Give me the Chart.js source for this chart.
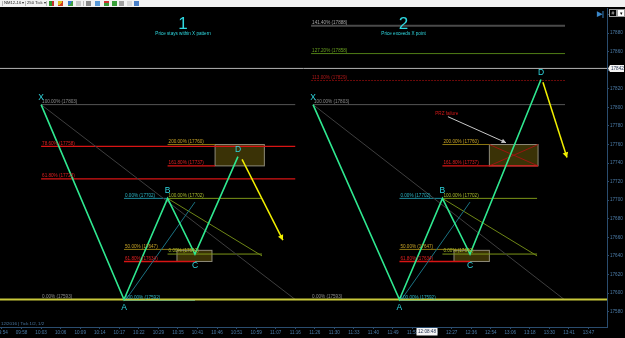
<!DOCTYPE html>
<html>
<head>
<meta charset="utf-8">
<script src="https://cdn.jsdelivr.net/npm/chart.js@4.4.1/dist/chart.umd.min.js"></script>
<style>
  body { margin: 0; background: #000; }
  #wrap { position: relative; width: 625px; height: 338px; overflow: hidden; }
  #bar { position: absolute; left: 0; top: 0; width: 625px; height: 7px; background: #f2f2f2;
         font: 4.2px 'Liberation Sans', Arial, sans-serif; color: #222; white-space: nowrap; }
  #bar span { position: absolute; top: 1.4px; line-height: 4.5px; }
  #bar i { position: absolute; top: 1px; width: 5px; height: 5px; }
  #bar b { position: absolute; top: 1px; width: 1px; height: 5px; background: #b8b8b8; }
  .corner { position: absolute; top: 9px; width: 6px; height: 6px; border: 1px solid #9a9a9a; background: #000;
            font: 5px 'Liberation Sans', Arial; color: #bbb; text-align: center; line-height: 6px; }
</style>
</head>
<body>
<div id="wrap">
  <canvas id="chart" width="625" height="338"></canvas>
  <div id="bar">
    <b style="left:2px"></b><span style="left:4px">NM12-16 ▾</span>
    <b style="left:25px"></b><span style="left:27px">250 Tick ▾</span>
    <b style="left:46px"></b>
    <i style="left:49px;background:linear-gradient(90deg,#2a9a2a 50%,#c83030 50%)"></i>
    <i style="left:58px;background:linear-gradient(135deg,#e0c020 50%,#d04020 50%)"></i>
    <i style="left:68px;background:linear-gradient(135deg,#3a7ad0 50%,#40a040 50%)"></i>
    <i style="left:76px;background:#c8c8c8"></i>
    <b style="left:83px"></b>
    <i style="left:86px;background:#8a8a8a"></i>
    <i style="left:95px;background:#5a9ad8"></i>
    <i style="left:104px;background:linear-gradient(180deg,#d03030 40%,#3a9a3a 40%)"></i>
    <i style="left:112px;background:#3aa03a"></i>
    <i style="left:119px;background:#a0a0a0"></i>
    <i style="left:127px;background:#d8d8d8"></i>
    <i style="left:134px;background:#4a80c8"></i>
  </div>
  <div style="position:absolute;left:597px;top:10px;color:#3a86c8;font:bold 7px 'Liberation Sans';">▶|</div>
  <div class="corner" style="left:609px">#</div>
  <div class="corner" style="left:617px;background:#fff;color:#000">▾</div>
</div>
<script>
// ---- axis data ----
const timeLabels = ["09:54", "09:58", "10:03", "10:06", "10:09", "10:14", "10:17", "10:22", "10:29",
  "10:35", "10:41", "10:46", "10:51", "10:59", "11:07", "11:16", "11:26", "11:30", "11:33", "11:40",
  "11:49", "11:58", "12:14", "12:27", "12:36", "12:54", "13:06", "13:18", "13:30", "13:41", "13:47"];
const priceTicks = [17580, 17600, 17620, 17640, 17660, 17680, 17700, 17720, 17740, 17760,
  17780, 17800, 17820, 17840, 17860, 17880, 17900];
const lastPrice = 17842;
const supportPrice = 17593;
const cursorTime = "12:08:48";
const cursorAt = 21.74;

// ---- swing points (x = bar slot on the time axis, y = price) ----
const pointNames = ["X", "A", "B", "C", "D"];
const p1Time = [2.0, 6.24, 8.47, 9.87, 12.07];
const p1Price = [17803, 17593, 17702, 17642, 17747];
const p2Time = [15.91, 20.33, 22.53, 23.94, 27.57];
const p2Price = [17803, 17593, 17702, 17642, 17830];

// ---- fibonacci levels ----
const p1LevelPct = ["100.00%", "78.60%", "61.80%", "200.00%", "161.80%", "0.00%", "100.00%", "50.00%", "61.80%", "0.00%", "100.00%", "0.00%"];
const p1LevelPrice = [17803, 17758, 17723, 17760, 17737, 17702, 17702, 17647, 17634, 17642, 17592, 17593];
const p1LevelFrom = [2.0, 2.0, 2.0, 8.47, 8.47, 6.24, 8.47, 6.24, 6.24, 8.47, 6.24, 2.0];
const p1LevelTo = [15.0, 15.0, 15.0, 10.9, 10.9, 8.47, 13.3, 9.87, 9.87, 13.3, 9.87, 15.0];
const p1LevelKind = ["x", "ret", "ret", "ext", "ret", "b", "bc", "ext", "ret", "bc", "b", "x"];

const p2LevelPct = ["141.40%", "127.20%", "113.00%", "100.00%", "200.00%", "161.80%", "0.00%", "100.00%", "50.00%", "61.80%", "0.00%", "100.00%", "0.00%"];
const p2LevelPrice = [17888, 17858, 17829, 17803, 17760, 17737, 17702, 17702, 17647, 17634, 17642, 17592, 17593];
const p2LevelFrom = [15.81, 15.81, 15.81, 15.91, 22.53, 22.53, 20.33, 22.53, 20.33, 20.33, 22.53, 20.33, 15.81];
const p2LevelTo = [28.8, 28.8, 28.8, 28.8, 24.93, 27.42, 22.53, 27.37, 23.94, 23.94, 27.37, 23.94, 28.76];
const p2LevelKind = ["x2", "g", "dr", "x", "ext", "ret", "b", "bc", "ext", "ret", "bc", "b", "x"];

// ---- helper diagonals ----
const diagFromX = [2.0, 8.47, 6.34, 15.91, 22.53, 20.43];
const diagFromY = [17803, 17702, 17593, 17803, 17702, 17593];
const diagToX = [15.0, 13.3, 9.87, 28.76, 27.37, 23.94];
const diagToY = [17593, 17640, 17698, 17593, 17640, 17698];
const diagKind = ["gray", "olive", "teal", "gray", "olive", "teal"];

// ---- PRZ boxes ----
const boxFrom = [8.95, 10.9, 23.12, 24.93];
const boxTo = [10.74, 13.42, 24.93, 27.42];
const boxHigh = [17646, 17760, 17646, 17760];
const boxLow = [17634, 17737, 17634, 17737];
const boxCrossed = [false, false, false, true];

// ---- arrows ----
const arrowFromX = [12.28, 27.67, 22.81];
const arrowFromY = [17744, 17827, 17790];
const arrowToX = [14.37, 28.9, 25.78];
const arrowToY = [17657, 17746, 17762];
const arrowKind = ["yellow", "yellow", "note"];

// ---- annotations ----
const titleText = ["1", "2"];
const titleNote = ["Price stays within X pattern", "Price exceeds X point"];
const titleAtX = [9.26, 20.54];
const titleAtY = [17889, 17879];
const noteText = "PRZ failure";
const noteAt = [22.75, 17793];

const levelLine = { x: "#555555", x2: "#4a4a4a", g: "#4f7d16", dr: "#6e0a0a", ret: "#d81414", ext: "#8c7612", b: "#1e8c9c", bc: "#7c9618" };
const levelText = { x: "#8c8c8c", x2: "#a8a8a8", g: "#6aa020", dr: "#b01818", ret: "#e02020", ext: "#c8a428", b: "#2ab4c4", bc: "#aabc2c" };
const diagColor = { gray: "#3e3e3e", olive: "#6e8616", teal: "#1a7282" };
const green = "#2fe890";
const cyan = "#2fd8e0";
const axisColor = "#2a4c6e";
const axisText = "#4c7ca8";
const FONT = "'Liberation Sans', Arial, sans-serif";

const seg = (x0, y0, x1, y1, color, width, dash) => ({
  data: [{ x: x0, y: y0 }, { x: x1, y: y1 }],
  borderColor: color, borderWidth: width || 1, borderDash: dash || [],
  pointRadius: 0, fill: false, tension: 0
});

const datasets = [];
datasets.push(seg(-0.2, lastPrice, 31.2, lastPrice, "#b4b4b4", 1));
function addLevels(pct, price, from, to, kind) {
  pct.forEach((p, i) => {
    const k = kind[i];
    datasets.push(seg(from[i], price[i], to[i], price[i], levelLine[k],
      k === "x2" ? 2.2 : (k === "ret" ? 1.4 : 1), k === "dr" ? [2, 1] : []));
  });
}
addLevels(p1LevelPct, p1LevelPrice, p1LevelFrom, p1LevelTo, p1LevelKind);
addLevels(p2LevelPct, p2LevelPrice, p2LevelFrom, p2LevelTo, p2LevelKind);
diagFromX.forEach((x, i) => datasets.push(seg(x, diagFromY[i], diagToX[i], diagToY[i], diagColor[diagKind[i]], 1)));
datasets.push(seg(-0.2, supportPrice, 31.2, supportPrice, "#c8c83a", 2));
[[p1Time, p1Price], [p2Time, p2Price]].forEach(([t, p]) => {
  datasets.push({
    data: t.map((x, i) => ({ x, y: p[i] })),
    borderColor: green, borderWidth: 1.6, pointRadius: 0, fill: false, tension: 0
  });
});
datasets.reverse(); // first in list is drawn on top

function txt(ctx, s, x, y, color, size, align, base) {
  ctx.font = size + "px " + FONT;
  ctx.fillStyle = color;
  ctx.textAlign = align || "left";
  ctx.textBaseline = base || "alphabetic";
  ctx.fillText(s, x, y);
}

function arrow(ctx, x0, y0, x1, y1, color, w, head) {
  ctx.strokeStyle = color; ctx.lineWidth = w;
  ctx.beginPath(); ctx.moveTo(x0, y0); ctx.lineTo(x1, y1); ctx.stroke();
  const a = Math.atan2(y1 - y0, x1 - x0);
  ctx.fillStyle = color;
  ctx.beginPath(); ctx.moveTo(x1, y1);
  ctx.lineTo(x1 - head * Math.cos(a - 0.5), y1 - head * Math.sin(a - 0.5));
  ctx.lineTo(x1 - head * Math.cos(a + 0.5), y1 - head * Math.sin(a + 0.5));
  ctx.closePath(); ctx.fill();
}

const drawings = {
  id: "drawings",
  beforeDatasetsDraw(chart) {
    const { ctx, chartArea: a, scales: { x, y } } = chart;
    ctx.save();
    ctx.beginPath(); ctx.rect(a.left, a.top, a.right - a.left, a.bottom - a.top); ctx.clip();
    boxFrom.forEach((b, i) => {
      const x0 = x.getPixelForValue(b), x1 = x.getPixelForValue(boxTo[i]);
      const y0 = y.getPixelForValue(boxHigh[i]), y1 = y.getPixelForValue(boxLow[i]);
      ctx.fillStyle = "#3a3206";
      ctx.fillRect(x0, y0, x1 - x0, y1 - y0);
      ctx.strokeStyle = "#8e8a78"; ctx.lineWidth = 1;
      ctx.strokeRect(x0, y0, x1 - x0, y1 - y0);
      if (boxCrossed[i]) {
        ctx.strokeStyle = "#9a1410";
        ctx.beginPath();
        ctx.moveTo(x0, y0); ctx.lineTo(x1, y1);
        ctx.moveTo(x0, y1); ctx.lineTo(x1, y0);
        ctx.stroke();
      }
    });
    ctx.restore();
  },
  afterDatasetsDraw(chart) {
    const { ctx, chartArea: a, scales: { x, y } } = chart;
    const X = v => x.getPixelForValue(v), Y = v => y.getPixelForValue(v);
    ctx.save();
    ctx.beginPath(); ctx.rect(a.left, a.top, a.right - a.left, a.bottom - a.top); ctx.clip();

    // level captions
    const cap = (pct, price, from, kind) => pct.forEach((p, i) =>
      txt(ctx, p + " (" + price[i] + ")", X(from[i]) + 1, Y(price[i]) - 1.6, levelText[kind[i]], 4.6));
    cap(p1LevelPct, p1LevelPrice, p1LevelFrom, p1LevelKind);
    cap(p2LevelPct, p2LevelPrice, p2LevelFrom, p2LevelKind);

    // arrows
    arrowFromX.forEach((ax, i) => {
      const yellow = arrowKind[i] === "yellow";
      arrow(ctx, X(ax), Y(arrowFromY[i]), X(arrowToX[i]), Y(arrowToY[i]),
        yellow ? "#f2f000" : "#c8c8c8", yellow ? 1.5 : 1, yellow ? 6 : 5);
    });

    // point names
    const dy = { X: -7, A: 8.5, B: -8, C: 12, D: -7 };
    [[p1Time, p1Price], [p2Time, p2Price]].forEach(([t, p]) => {
      pointNames.forEach((n, i) => txt(ctx, n, X(t[i]), Y(p[i]) + dy[n], cyan, 8.5, "center", "middle"));
    });

    // titles
    titleText.forEach((s, i) => {
      txt(ctx, s, X(titleAtX[i]), Y(titleAtY[0]), cyan, 17, "center", "middle");
      txt(ctx, titleNote[i], X(titleAtX[i]), Y(titleAtY[1]), cyan, 4.6, "center", "middle");
    });
    txt(ctx, noteText, X(noteAt[0]), Y(noteAt[1]), "#d01818", 4.6, "center", "middle");
    txt(ctx, "12/2016 | Tick 1/2, 1/2", a.left + 1, a.bottom - 2, axisText, 4.4);
    ctx.restore();
  },
  afterDraw(chart) {
    const { ctx, chartArea: a, scales: { x, y } } = chart;
    ctx.save();
    // last price tag on the price axis
    const yp = y.getPixelForValue(lastPrice);
    ctx.fillStyle = "#f4f4f4";
    ctx.beginPath();
    ctx.moveTo(a.right + 1, yp); ctx.lineTo(a.right + 3, yp - 3.5); ctx.lineTo(624, yp - 3.5);
    ctx.lineTo(624, yp + 3.5); ctx.lineTo(a.right + 3, yp + 3.5); ctx.closePath(); ctx.fill();
    txt(ctx, String(lastPrice), a.right + 4, yp + 0.3, "#1a2a4a", 4.6, "left", "middle");
    // cursor time tag on the time axis
    const xc = x.getPixelForValue(cursorAt);
    ctx.fillStyle = "#f4f4f4";
    ctx.fillRect(xc - 10.5, a.bottom + 1, 21, 7.5);
    txt(ctx, cursorTime, xc, a.bottom + 4.9, "#1a2a4a", 4.6, "center", "middle");
    ctx.restore();
  }
};

Chart.defaults.font.family = FONT;
new Chart(document.getElementById("chart"), {
  type: "line",
  data: { datasets },
  options: {
    responsive: false,
    animation: false,
    devicePixelRatio: 1,
    events: [],
    layout: { autoPadding: false, padding: { top: 8, left: 0, right: 0, bottom: 0 } },
    plugins: { legend: { display: false }, tooltip: { enabled: false } },
    scales: {
      x: {
        type: "linear", min: -0.1023, max: 30.947,
        afterBuildTicks: s => { s.ticks = timeLabels.map((t, i) => ({ value: i })); },
        ticks: { callback: v => timeLabels[v], color: axisText, font: { size: 4.6 }, maxRotation: 0, autoSkip: false, padding: 1 },
        grid: { display: true, drawOnChartArea: false, drawTicks: true, tickLength: 2, color: axisColor },
        border: { color: axisColor },
        afterFit: s => { s.height = 11; s.paddingLeft = 0; s.paddingRight = 0; }
      },
      y: {
        type: "linear", position: "right", min: 17563.4, max: 17907.1,
        afterBuildTicks: s => { s.ticks = priceTicks.map(v => ({ value: v })); },
        ticks: { callback: v => String(v), color: axisText, font: { size: 4.6 }, padding: 1 },
        grid: { display: true, drawOnChartArea: false, drawTicks: true, tickLength: 2, color: axisColor },
        border: { color: axisColor },
        afterFit: s => { s.width = 18; s.paddingTop = 0; s.paddingBottom = 0; }
      }
    }
  },
  plugins: [drawings]
});
</script>
</body>
</html>
